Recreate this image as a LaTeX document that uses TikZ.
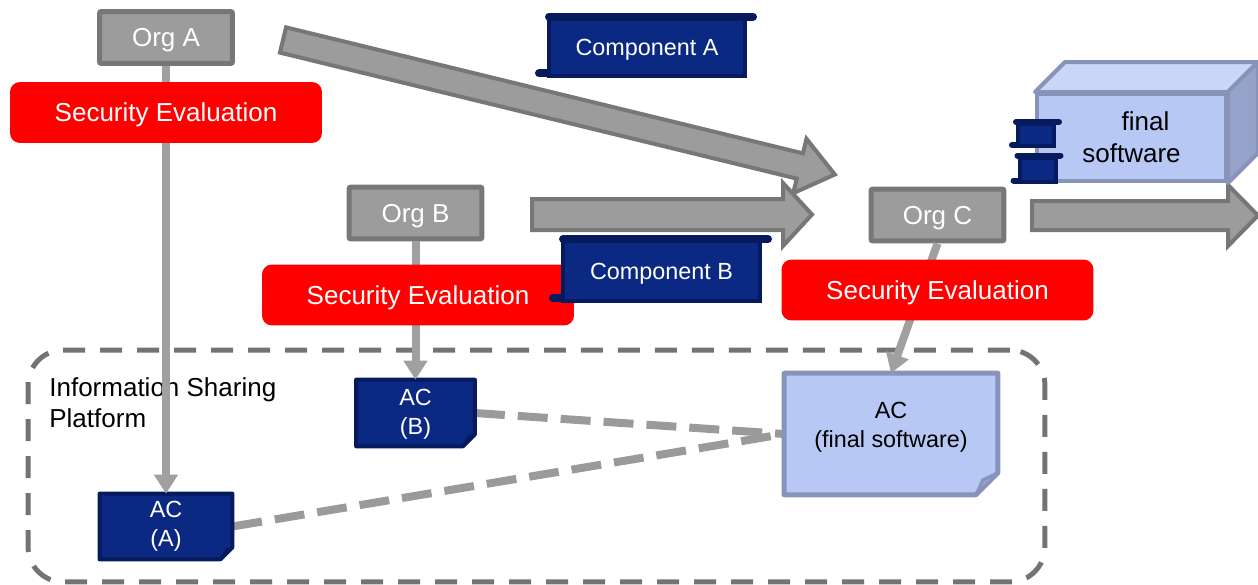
\documentclass[tikz,border=0pt]{standalone}
\usepackage{fontspec}
\setmainfont{Liberation Sans}
\usetikzlibrary{arrows.meta}

\definecolor{orgfill}{HTML}{9C9C9C}
\definecolor{orgline}{HTML}{777777}
\definecolor{evalred}{HTML}{FF0000}
\definecolor{navy}{HTML}{0B2883}
\definecolor{navyline}{HTML}{061B5E}
\definecolor{lightblue}{HTML}{B8C8F5}
\definecolor{lighttop}{HTML}{C9D6F8}
\definecolor{lightside}{HTML}{95A3CB}
\definecolor{lightline}{HTML}{8893BA}
\definecolor{linkgray}{HTML}{A0A0A0}
\definecolor{dashgray}{HTML}{9A9A9A}
\definecolor{framegray}{HTML}{737373}

\begin{document}
\begin{tikzpicture}[
  x=0.02cm, y=-0.02cm,
  bigfont/.style={font=\fontsize{14.8}{18}\selectfont},
  smallfont/.style={font=\fontsize{13.3}{16.5}\selectfont},
  orgbox/.style={draw=orgline, fill=orgfill, line width=0.1cm, rounded corners=0.04cm,
    text=white, bigfont, text depth=0pt, minimum width=2.66cm, minimum height=1.04cm, inner sep=0pt},
  evalbox/.style={fill=evalred, rounded corners=0.2cm, text=white, bigfont, text depth=0pt,
    minimum width=6.24cm, minimum height=1.22cm, inner sep=0pt},
  compbox/.style={draw=navyline, fill=navy, line width=0.08cm, text=white, smallfont,
    text depth=0pt, inner sep=0pt},
  roll/.style={draw=navyline, line width=0.16cm, line cap=round},
  smallroll/.style={draw=navyline, line width=0.12cm, line cap=round},
  notearea/.style={inner sep=0pt},
  darknote/.style={draw=navyline, fill=navy, line width=0.08cm, line join=round},
  darkfold/.style={draw=navyline, fill=navyline!80!navy, line width=0.04cm, line join=round},
  lightnote/.style={draw=lightline, fill=lightblue, line width=0.1cm, line join=round},
  lightfold/.style={draw=lightline, fill=lightside, line width=0.06cm, line join=round},
  notetext/.style={smallfont, align=center, inner sep=0pt},
  bigarrow/.style={draw=orgline, fill=orgfill, line width=0.08cm, line join=miter},
  link/.style={draw=linkgray, line width=0.16cm,
    -{Triangle[width=0.46cm,length=0.38cm]}},
  share/.style={draw=dashgray, line width=0.16cm, dash pattern=on 0.6cm off 0.26cm},
  platform/.style={draw=framegray, line width=0.1cm, rounded corners=0.7cm,
    dash pattern=on 0.44cm off 0.3cm, inner sep=0pt},
]
\useasboundingbox (0,0) rectangle (1258,585);

% ---- information sharing platform (dashed frame) ----
\node[platform, minimum width=20.34cm, minimum height=4.64cm] (platform) at (536.5,466) {};
\node[bigfont, align=left, anchor=north west, inner sep=0pt] (platformlabel) at (49,377)
  {Information Sharing\\Platform};

% ---- block arrows between organisations ----
\begin{scope}[shift={(283,40)}, rotate=-13.7]
  \draw[bigarrow] (0,-13) -- (532,-13) -- (532,-28) -- (568,0) -- (532,28) -- (532,13) -- (0,13) -- cycle;
\end{scope}
\draw[bigarrow] (532,199) -- (783,199) -- (783,183) -- (812,214.5) -- (783,246) -- (783,230) -- (532,230) -- cycle;
\draw[bigarrow] (1032,201) -- (1228,201) -- (1228,185) -- (1258,215.5) -- (1228,246) -- (1228,230) -- (1032,230) -- cycle;

% ---- artefact certificates (notes with folded corner) ----
\node[notearea, minimum width=2.64cm, minimum height=1.3cm] (acA) at (166,526.5) {};
\node[notearea, minimum width=2.36cm, minimum height=1.32cm] (acB) at (415.5,413) {};
\node[notearea, minimum width=4.26cm, minimum height=2.42cm] (acF) at (891,434) {};

% sharing links between certificates
\draw[share] (acB.east) -- (acF.west);
\draw[share] (acA.east) -- (acF.west);

\foreach \n/\f in {acA/0.24cm, acB/0.24cm} {
  \draw[darknote] (\n.north west) -- (\n.north east) -- ([yshift=\f]\n.south east)
    -- ([xshift=-\f]\n.south east) -- (\n.south west) -- cycle;
  \draw[darkfold] ([xshift=-\f]\n.south east) -- ([xshift=-\f+0.12cm, yshift=\f-0.04cm]\n.south east)
    -- ([yshift=\f]\n.south east) -- cycle;
}
\draw[lightnote] (acF.north west) -- (acF.north east) -- ([yshift=0.44cm]acF.south east)
  -- ([xshift=-0.44cm]acF.south east) -- (acF.south west) -- cycle;
\draw[lightfold] ([xshift=-0.44cm]acF.south east) -- ([xshift=-0.3cm, yshift=0.3cm]acF.south east)
  -- ([yshift=0.44cm]acF.south east) -- cycle;

\node[notetext, text=white] (acAtext) at ([yshift=0.0cm]acA.center) {AC\\(A)};
\node[notetext, text=white] (acBtext) at ([yshift=-0.02cm]acB.center) {AC\\(B)};
\node[notetext, text=black] (acFtext) at ([yshift=0.13cm]acF.center) {AC\\(final software)};

% ---- organisations ----
\node[orgbox] (orgA) at (166,37.5) {Org A};
\node[orgbox] (orgB) at (415.5,213) {Org B};
\node[orgbox] (orgC) at (937.5,215) {Org C};

% evaluation results flowing into the platform
\draw[link] (orgA.south) -- (acA.north);
\draw[link] (orgB.south) -- (acB.north);
\draw[link] (orgC.south) -- (acF.north);

% ---- security evaluations ----
\node[evalbox] (evalA) at (166,112.5) {Security Evaluation};
\node[evalbox] (evalB) at (418,295) {Security Evaluation};
\node[evalbox] (evalC) at (937.5,290) {Security Evaluation};

% ---- components (scrolls) ----
\node[compbox, minimum width=3.92cm, minimum height=1.16cm] (compA) at (647,47.5) {Component A};
\draw[roll] ([xshift=0.04cm]compA.north west) -- ([xshift=0.12cm]compA.north east);
\draw[roll] ([xshift=-0.16cm, yshift=0.1cm]compA.south west) -- ([yshift=0.1cm]compA.south west);

\node[compbox, minimum width=3.94cm, minimum height=1.2cm] (compB) at (661.5,271) {Component B};
\draw[roll] ([xshift=0.04cm]compB.north west) -- ([xshift=0.12cm]compB.north east);
\draw[roll] ([xshift=-0.16cm, yshift=0.1cm]compB.south west) -- ([yshift=0.1cm]compB.south west);

% ---- final software (3D box) ----
\node[draw=lightline, fill=lightblue, line width=0.08cm, minimum width=3.78cm, minimum height=1.74cm,
  bigfont, align=center, inner sep=0pt] (final) at (1131.5,137.5) {\hspace*{0.56cm}final\\software};
\draw[draw=lightline, fill=lighttop, line width=0.08cm, line join=round]
  (final.north west) -- ++(30,-30) -- ([shift={(30,-30)}]final.north east) -- (final.north east) -- cycle;
\draw[draw=lightline, fill=lightside, line width=0.08cm, line join=round]
  (final.north east) -- ++(30,-30) -- ([shift={(30,-30)}]final.south east) -- (final.south east) -- cycle;

% components built into the final software
\node[compbox, minimum width=0.72cm, minimum height=0.44cm] (partA) at (1036,135) {};
\draw[smallroll] (partA.north west) -- ([xshift=0.06cm]partA.north east);
\draw[smallroll] ([xshift=-0.08cm, yshift=0.06cm]partA.south west) -- ([yshift=0.06cm]partA.south west);
\node[compbox, minimum width=0.72cm, minimum height=0.48cm] (partB) at (1037.5,169.5) {};
\draw[smallroll] (partB.north west) -- ([xshift=0.06cm]partB.north east);
\draw[smallroll] ([xshift=-0.08cm, yshift=0.06cm]partB.south west) -- ([yshift=0.06cm]partB.south west);

\end{tikzpicture}
\end{document}
